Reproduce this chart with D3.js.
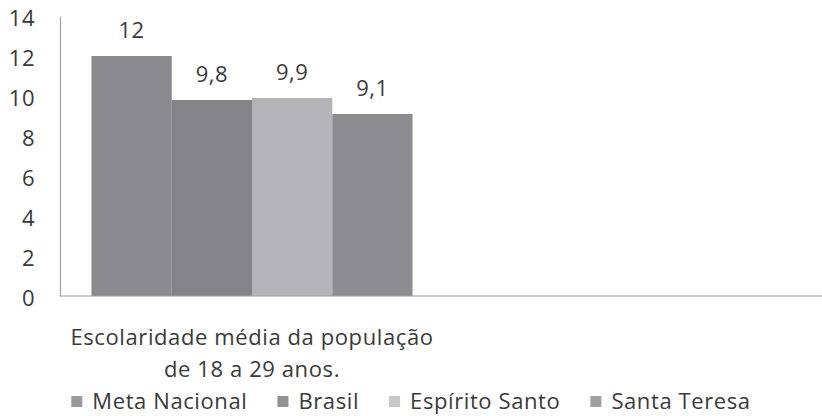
<!DOCTYPE html>
<html>
<head>
<meta charset="utf-8">
<script src="https://cdn.jsdelivr.net/npm/d3@7"></script>
<style>
  body { margin: 0; background: #fff; }
  text { font-family: "Open Sans", sans-serif; fill: #3a3a3a; }
</style>
</head>
<body>
<div id="chart"></div>
<script>
// data
var categories = ["Escolaridade média da população\nde 18 a 29 anos."];
var series = ["Meta Nacional", "Brasil", "Espírito Santo", "Santa Teresa"];
var values = [12, 9.8, 9.9, 9.1];
var valueLabels = ["12", "9,8", "9,9", "9,1"];
var yTicks = [0, 2, 4, 6, 8, 10, 12, 14];

var barColors = ["#8b8b8f", "#838388", "#b4b4b8", "#8d8d91"];
var keyColors = ["#9a9a9e", "#929296", "#c8c8cc", "#a0a0a4"];

var width = 822, height = 416;
var margin = {top: 16, right: 0, bottom: 120, left: 60};
var fs = "22px";

var svg = d3.select("#chart")
  .append("svg")
    .attr("width", width)
    .attr("height", height);

var y = d3.scaleLinear()
  .domain([0, 14])
  .range([height - margin.bottom, margin.top]);

// the category band only fills the left half, like the original
var x0 = d3.scaleBand()
  .domain(categories)
  .range([margin.left, 444])
  .paddingInner(0)
  .paddingOuter(0.098);

var x1 = d3.scaleBand()
  .domain(series)
  .range([0, x0.bandwidth()]);

// y axis
var yAxis = svg.append("g")
  .attr("transform", "translate(" + margin.left + ",0)")
  .call(d3.axisLeft(y).tickValues(yTicks).tickSize(0).tickPadding(25).tickSizeOuter(0));
yAxis.select(".domain").attr("stroke", "#a0a0a0").attr("stroke-width", 1.2);
yAxis.selectAll("text")
  .attr("font-size", fs)
  .attr("dy", "0.42em")
  .style("font-family", "'Open Sans', sans-serif")
  .style("letter-spacing", "0.5px")
  .attr("fill", "#3a3a3a");

// bars
var cat = categories[0];
svg.append("g")
  .selectAll("rect")
  .data(values)
  .enter()
  .append("rect")
    .attr("x", function(d, i) { return x0(cat) + x1(series[i]); })
    .attr("y", function(d) { return y(d); })
    .attr("width", x1.bandwidth())
    .attr("height", function(d) { return y(0) - y(d); })
    .attr("fill", function(d, i) { return barColors[i]; });

// value labels
svg.append("g")
  .selectAll("text")
  .data(values)
  .enter()
  .append("text")
    .attr("text-anchor", "middle")
    .attr("font-size", fs)
    .style("letter-spacing", "0.5px")
    .attr("x", function(d, i) { return x0(cat) + x1(series[i]) + x1.bandwidth() / 2; })
    .attr("y", function(d) { return y(d) - 18; })
    .text(function(d, i) { return valueLabels[i]; });

// baseline across the whole plot
svg.append("line")
  .attr("x1", margin.left)
  .attr("x2", width)
  .attr("y1", y(0))
  .attr("y2", y(0))
  .attr("stroke", "#a0a0a0")
  .attr("stroke-width", 1.2);

// category label (two lines)
var catText = svg.append("text")
  .attr("text-anchor", "middle")
  .attr("font-size", fs)
  .style("letter-spacing", "0.6px")
  .attr("x", x0(cat) + x0.bandwidth() / 2)
  .attr("y", 345);
cat.split("\n").forEach(function(line, i) {
  catText.append("tspan")
    .attr("x", x0(cat) + x0.bandwidth() / 2)
    .attr("dy", i == 0 ? 0 : 32)
    .text(line);
});

// legend
var legend = svg.append("g");
var lx = 0;
series.forEach(function(s, i) {
  legend.append("rect")
    .attr("x", lx)
    .attr("y", -5)
    .attr("width", 11)
    .attr("height", 11)
    .attr("fill", keyColors[i]);
  var t = legend.append("text")
    .attr("x", lx + 21)
    .attr("y", 0)
    .attr("dy", "0.35em")
    .attr("font-size", fs)
    .style("letter-spacing", "0.6px")
    .text(s);
  lx = lx + 21 + t.node().getComputedTextLength() + 30;
});
var legendW = lx - 30;
legend.attr("transform", "translate(" + (411 - legendW / 2) + ",401)");
</script>
</body>
</html>
